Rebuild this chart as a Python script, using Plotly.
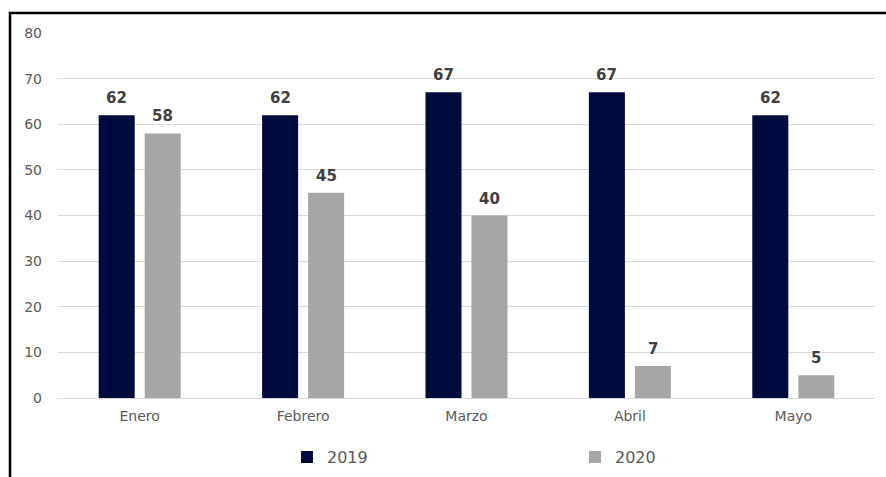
import plotly.graph_objects as go

months = ["Enero", "Febrero", "Marzo", "Abril", "Mayo"]
v2019 = [62, 62, 67, 67, 62]
v2020 = [58, 45, 40, 7, 5]
series_names = ["2019", "2020"]
colors = ["#000B3D", "#A6A6A6"]

W, H = 886, 477
L, R, T, B = 58, 11, 33, 79

fig = go.Figure()
for name, vals, col in zip(series_names, [v2019, v2020], colors):
    fig.add_trace(go.Bar(x=months, y=vals, name=name, marker_color=col,
                         marker_line_width=0))

annos = []
for k, vals in enumerate([v2019, v2020]):
    shift = -23 if k == 0 else 23
    for m, v in zip(months, vals):
        annos.append(dict(x=m, y=v, text=f"<b>{v}</b>", showarrow=False,
                          xref="x", yref="y", yanchor="bottom", xshift=shift,
                          yshift=6, font=dict(family="DejaVu Sans", size=15, color="#404040")))

fig.update_layout(
    width=W, height=H,
    margin=dict(l=L, r=R, t=T, b=B, pad=0, autoexpand=False),
    paper_bgcolor="white", plot_bgcolor="white",
    barmode="group", bargap=0.437, bargroupgap=0.217,
    font=dict(family="DejaVu Sans", color="#595959", size=14),
    annotations=annos,
    showlegend=True,
    legend=dict(orientation="h", x=(287 - L) / (W - L - R), xanchor="left",
                y=-0.162, yanchor="middle",
                entrywidth=243, entrywidthmode="pixels",
                font=dict(size=16, color="#595959"), itemclick=False),
    shapes=[dict(type="rect", xref="paper", yref="paper",
                 x0=(10 - L) / (W - L - R), x1=1.2,
                 y0=-0.4, y1=(H - B - 13) / (H - T - B),
                 line=dict(color="black", width=2.5), layer="above")],
)
fig.update_yaxes(range=[0, 80], dtick=10, showgrid=True, gridcolor="#D9D9D9",
                 gridwidth=1, zeroline=True, zerolinecolor="#D9D9D9", zerolinewidth=1,
                 showline=False, ticks="", ticklabelstandoff=15,
                 tickfont=dict(size=14, color="#595959"))
fig.update_xaxes(showline=False, ticks="", ticklabelstandoff=8,
                 tickfont=dict(size=14, color="#595959"))

fig.write_html("out.html")
